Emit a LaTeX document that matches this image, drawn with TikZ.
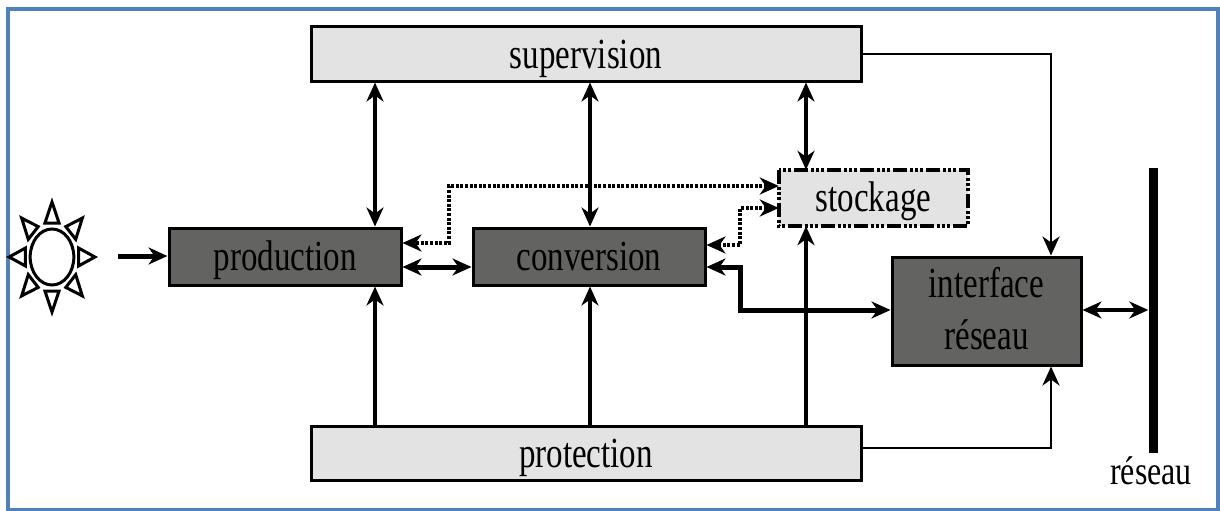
\documentclass[tikz,border=0pt]{standalone}
\usepackage{fontspec}
\setmainfont{Liberation Serif}
\usetikzlibrary{arrows.meta,calc}
\definecolor{frameblue}{HTML}{4F81BD}
\definecolor{lightbox}{HTML}{E3E3E3}
\definecolor{darkbox}{HTML}{636462}
\newcommand{\talltext}[2][-14pt]{\raisebox{#1}[0pt][0pt]{\scalebox{1}[1.3]{#2}}}
\tikzset{
  x=1pt,y=-1pt,
  >={Stealth[length=19pt,width=17pt,inset=6pt]},
  lightblock/.style={draw=black,line width=3pt,fill=lightbox,inner sep=0pt,font=\fontsize{33}{38}\selectfont,text=black},
  darkblock/.style={draw=black,line width=3pt,fill=darkbox,inner sep=0pt,font=\fontsize{33}{38}\selectfont,text=black,align=center},
  conn/.style={line width=3.2pt,<->},
  oneway/.style={line width=3.2pt,->},
  sideline/.style={line width=2.9pt,->},
  heavyconn/.style={line width=5pt,<->},
  thickconn/.style={line width=5pt,->},
  dotconn/.style={line width=3.8pt,dash pattern=on 3pt off 1.6pt,<->},
  sunray/.style={draw=black,line width=3pt,fill=white,line join=miter}
}
\begin{document}
\begin{tikzpicture}
\useasboundingbox (0,0) rectangle (1220,511);
\draw[frameblue,line width=3.6pt] (8,511) -- (8,9) -- (1218,9) -- (1218,509.5) -- (6,509.5);
% blocks
\node[lightblock,minimum width=550pt,minimum height=54pt] (sup) at (586,54) {\talltext{supervision}};
\node[lightblock,minimum width=550pt,minimum height=54pt] (prot) at (586,453) {\talltext{protection}};
\node[darkblock,minimum width=232pt,minimum height=57pt] (prod) at (285,256.5) {\talltext{production}};
\node[darkblock,minimum width=232pt,minimum height=57pt] (conv) at (589,256.5) {\talltext{conversion}};
\node[draw=none,fill=lightbox,minimum width=189pt,minimum height=56pt,inner sep=0pt,font=\fontsize{33}{38}\selectfont,text=black] (stock) at (873.5,198) {\talltext[-13pt]{stockage}};
\draw[line width=3.8pt,dash pattern=on 14pt off 3pt on 3pt off 2pt on 3pt off 2pt on 3pt off 3pt] (stock.north west) rectangle (stock.south east);
\node[darkblock,minimum width=189pt,minimum height=108pt,font=\fontsize{33}{48}\selectfont] (iface) at (986.5,311) {\talltext[-12pt]{interface}\\[4pt]\talltext[-12pt]{réseau}};
\node[fill=black,inner sep=0pt,minimum width=9pt,minimum height=285pt] (bar) at (1153,310.5) {};
\node[font=\fontsize{32}{36}\selectfont,inner sep=0pt] (netlabel) at (1151,471) {\scalebox{1}[1.25]{réseau}};
% sun
\begin{scope}[shift={(52,257)},xscale=0.78]
  \draw[black,line width=3pt,fill=white] (0,0) circle (28pt);
  \foreach \a in {0,45,...,315}{
    \draw[sunray,rotate=\a] (-9,-34) -- (0,-55) -- (9,-34) -- cycle;
  }
\end{scope}
% positions of the vertical runs
\coordinate (xa) at (375,0);
\coordinate (xb) at (590,0);
\coordinate (xc) at (806,0);
\coordinate (xd) at (1051,0);
\coordinate (xe) at (449,0);
\coordinate (xf) at (740,0);
\coordinate (yh) at (0,310);
\coordinate (yl) at (0,267);
\coordinate (srcin) at (118,256);
\coordinate (ydota) at (0,186);
\coordinate (ydotb) at (0,208);
\coordinate (yprod) at (0,243);
\coordinate (yconv) at (0,245);
\coordinate (ysup) at (0,54);
\coordinate (yprot) at (0,448);
% connectors
\draw[thickconn] (srcin) -- (prod.west |- srcin);
\draw[conn] (sup.south -| xa) -- (prod.north -| xa);
\draw[conn] (sup.south -| xb) -- (conv.north -| xb);
\draw[conn] (sup.south -| xc) -- (stock.north -| xc);
\draw[oneway] (prot.north -| xa) -- (prod.south -| xa);
\draw[oneway] (prot.north -| xb) -- (conv.south -| xb);
\draw[oneway] (prot.north -| xc) -- (stock.south -| xc);
\draw[sideline] (sup.east |- ysup) -| (iface.north -| xd);
\draw[sideline] (prot.east |- yprot) -| (iface.south -| xd);
\draw[conn] (iface.east |- yh) -- (bar.west |- yh);
\draw[heavyconn] (prod.east |- yl) -- (conv.west |- yl);
\draw[heavyconn] (conv.east |- yl) -| (xf |- yh) -- (iface.west |- yh);
\draw[dotconn] (stock.west |- ydota) -| (xe |- yprod) -- (prod.east |- yprod);
\draw[dotconn] (stock.west |- ydotb) -| (xf |- yconv) -- (conv.east |- yconv);
\end{tikzpicture}
\end{document}
